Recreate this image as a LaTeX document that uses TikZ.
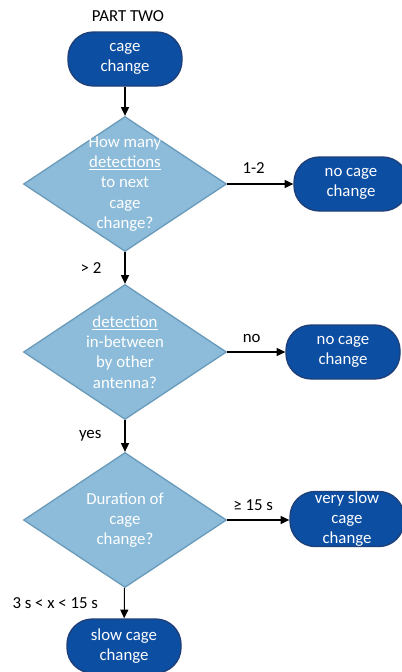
\documentclass[tikz,border=0pt]{standalone}
\usepackage{fontspec}
\setmainfont{Carlito}
\usepackage{xcolor}
\usepackage{tikz}
\usetikzlibrary{arrows.meta,shapes.geometric}
\definecolor{termblue}{HTML}{0B4EA2}
\definecolor{termedge}{HTML}{1E3F78}
\definecolor{diafill}{HTML}{8CBCDA}
\definecolor{diaedge}{HTML}{6B9BBA}

\begin{document}
\begin{tikzpicture}[x=0.75pt,y=-0.75pt,font=\fontsize{12.6}{15.2}\selectfont,
  term/.style={rectangle,rounded corners=19pt,fill=termblue,draw=termedge,line width=1pt,
    minimum width=85.5pt,minimum height=40.5pt,inner sep=0pt,text=white,align=center},
  decide/.style={diamond,fill=diafill,draw=diaedge,line width=1pt,
    minimum width=152.25pt,minimum height=101.25pt,inner sep=0pt},
  dtext/.style={text=white,align=center},
  arr/.style={-{Triangle[length=6.5pt,width=6pt]},line width=0.8pt}]
\useasboundingbox (0,0) rectangle (401,672);
\node (title) at (128,16) {PART TWO};
\node[term] (start) at (125,59) {cage\\change};
% first question
\node[decide] (q1) at (125,184) {};
\node[dtext] (q1txt) at (125,184) {How many\\\underline{detections}\\to next\\cage\\change?};
\node[term] (none1) at (351,184) {no cage\\change};
% second question
\node[decide] (q2) at (125,352) {};
\node[dtext] (q2txt) at (125,352) {\underline{detection}\\in-between\\by other\\antenna?};
\node[term] (none2) at (343,352) {no cage\\change};
% third question
\node[decide] (q3) at (125,520) {};
\node[dtext] (q3txt) at (125,520) {Duration of\\cage\\change?};
\node[term] (vslow) at (347,519) {very slow\\cage\\change};
\node[term] (slow) at (124,646) {slow cage\\change};
% connectors
\draw[arr] (start) -- (q1);
\draw[arr] (q1) -- node[pos=0.4,above=4pt] {1-2} (none1);
\draw[arr] (q1) -- node[left=14pt] {> 2} (q2);
\draw[arr] (q2) -- node[pos=0.42,above=3.5pt] {no} (none2);
\draw[arr] (q2) -- node[left=14pt] {yes} (q3);
\draw[arr] (q3) -- node[pos=0.42,above=3pt] {≥ 15 s} (q3 -| vslow.west);
\draw[arr] (q3) -- node[left=16pt] {3 s < x < 15 s} (slow);
\end{tikzpicture}
\end{document}
